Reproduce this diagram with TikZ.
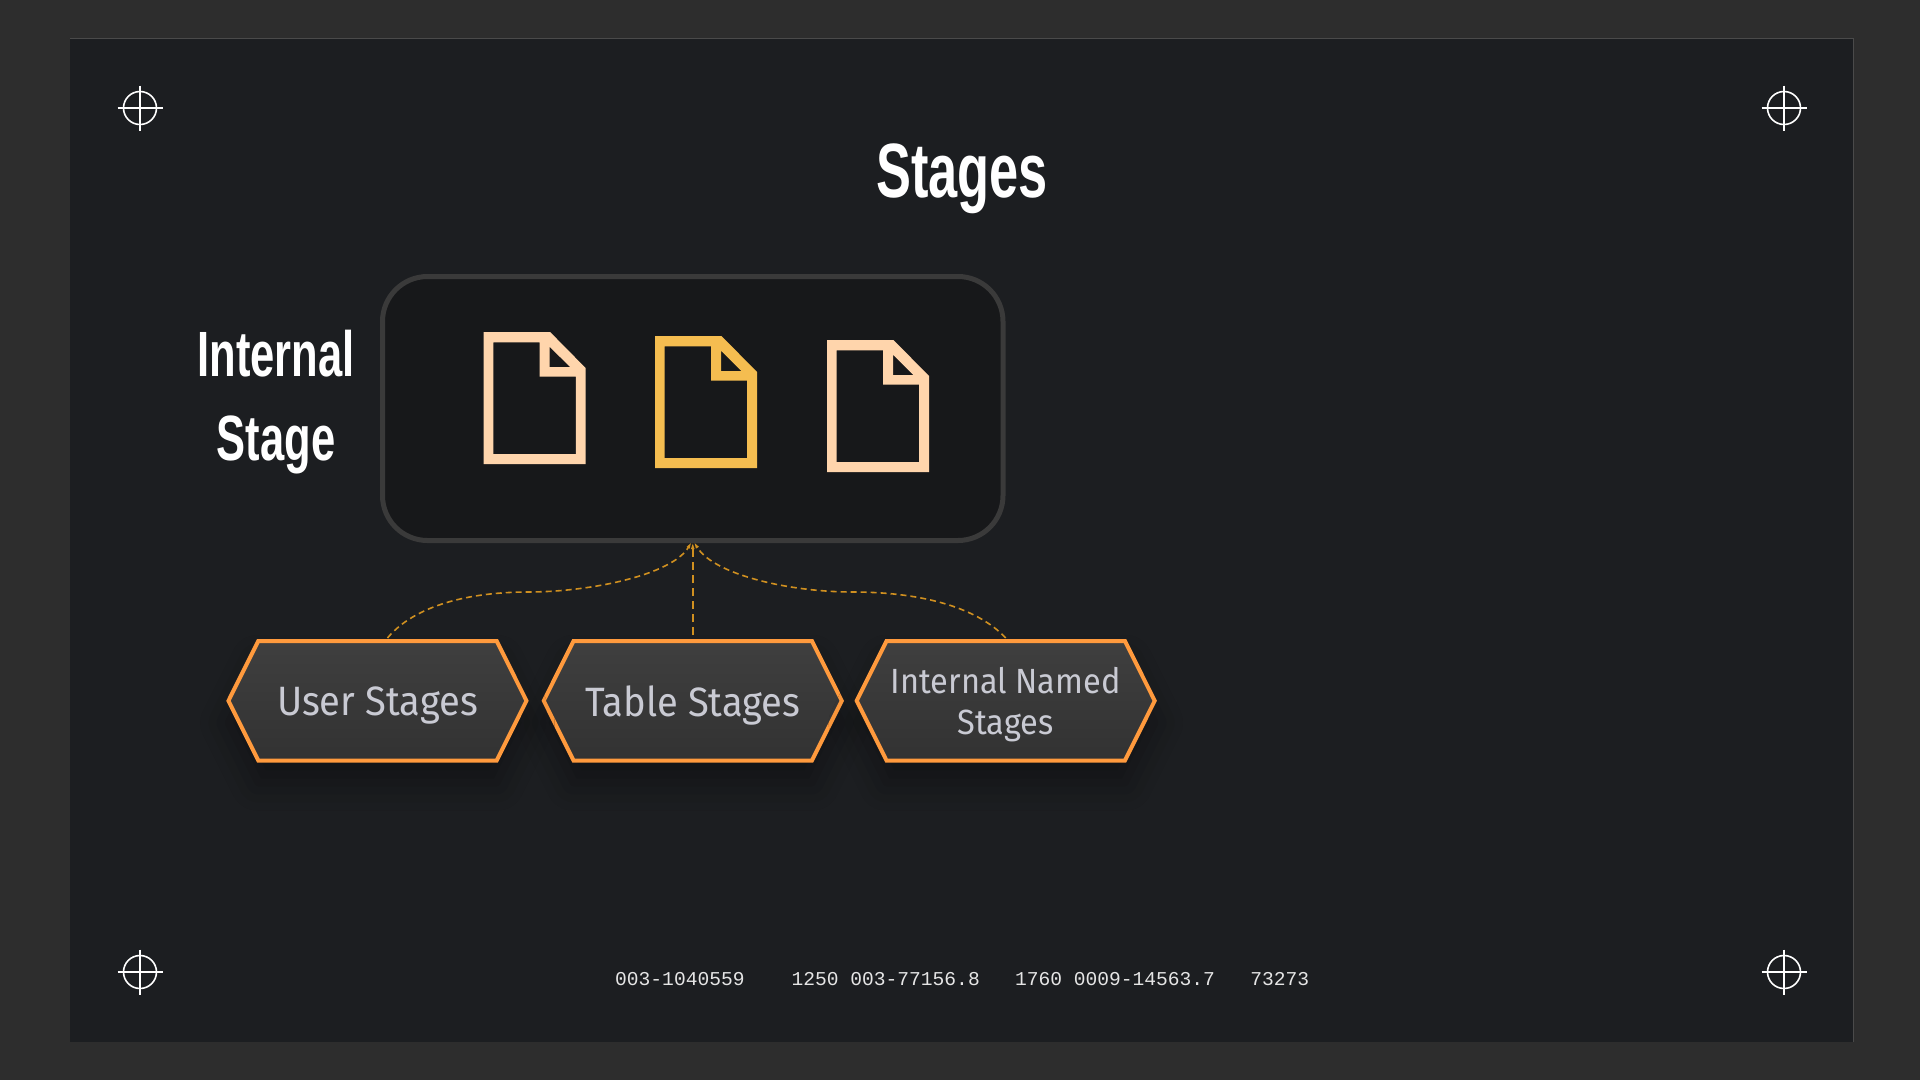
\documentclass[tikz,border=0pt]{standalone}
\usepackage{fontspec}
\newfontfamily\titlefont[FakeStretch=0.68]{Liberation Sans Bold}
\newfontfamily\hexfont[FakeStretch=0.93]{Fira Sans}
\newfontfamily\codefont{Liberation Mono}
\usetikzlibrary{calc,shapes.symbols,arrows.meta,positioning,shadows.blur}

\definecolor{pagegrey}{HTML}{2D2D2D}
\definecolor{slidegrey}{HTML}{1C1E21}
\definecolor{slideedge}{HTML}{4A4A4A}
\definecolor{boxfill}{HTML}{17181A}
\definecolor{boxedge}{HTML}{3A3A3A}
\definecolor{docpeach}{HTML}{FFD5AC}
\definecolor{docgold}{HTML}{F5BD50}
\definecolor{hexedge}{HTML}{FF9A3D}
\definecolor{hextop}{HTML}{3F3F3F}
\definecolor{hexbottom}{HTML}{323232}
\definecolor{hextext}{HTML}{C9CAD3}
\definecolor{linkgold}{HTML}{D09020}

\begin{document}
\begin{tikzpicture}[
    x=1pt,y=-1pt,
    stagebox/.style={rectangle,
        draw=boxedge,
        fill=boxfill,
        line width=5pt,
        rounded corners=45pt,
        minimum width=620.5pt,
        minimum height=264pt},
    stagehex/.style={signal,signal to=east and west,
        signal pointer angle=127,
        draw=hexedge,
        line width=4pt,
        top color=hextop,
        bottom color=hexbottom,
        text=hextext,
        font=\hexfont\fontsize{41}{41}\selectfont,
        align=center,
        inner sep=0pt,
        text depth=-2pt,
        minimum width=298pt,
        minimum height=119.5pt,
        blur shadow={shadow xshift=0pt,shadow yshift=-22pt,shadow blur radius=28pt,shadow opacity=35}},
    headline/.style={text=white,font=\titlefont\fontsize{#1}{84}\selectfont,align=center,inner sep=0pt},
    stagelink/.style={draw=linkgold,line width=1.6pt,dash pattern=on 6pt off 4pt,
        -{Latex[length=9pt,width=3.5pt]}},
    docicon/.pic={
        \fill[pic actions,even odd rule]
            (0,0) -- (66.5,0) -- (102,36) -- (102,132) -- (0,132) -- cycle
            (9.7,10.3) -- (56,10.3) -- (56,44.7) -- (92.2,44.7) -- (92.2,122) -- (9.7,122) -- cycle
            (66,14.7) -- (86.5,35) -- (66,35) -- cycle;
    },
    crossmark/.pic={
        \draw[white,line width=1.6pt] (0,0) circle (16.5);
        \draw[white,line width=1.6pt] (-22.5,0) -- (22.5,0) (0,-22.5) -- (0,22.5);
    },
    ]

    \useasboundingbox (0,0) rectangle (1920,1080);
    \fill[pagegrey] (0,0) rectangle (1920,1080);
    \fill[slidegrey] (70,38) rectangle (1853,1042);
    \draw[slideedge,line width=1pt] (70,38) -- (1853,38) -- (1853,1042);

    \foreach \markname/\markx/\marky in {marka/140/108,markb/1784/108,markc/140/972,markd/1784/972}
        \pic (\markname) at (\markx,\marky) {crossmark};

    \node [headline=77, anchor=base] (title) at (962,197) {Stages};
    \node [headline=64] (internal) at (276,402) {Internal\\Stage};

    \node [stagebox] (box) at (692.75,408.5) {};
    \pic [fill=docpeach] (doca) at (483.6,332) {docicon};
    \pic [fill=docgold] (docb) at (655,336) {docicon};
    \pic [fill=docpeach] (docc) at (827,340) {docicon};

    \node [stagehex, below = 96pt of box] (tablestages) {Table Stages};
    \node [stagehex, left = 12.8pt of tablestages] (userstages) {User Stages};
    \node [stagehex, right = 10.5pt of tablestages, font=\hexfont\fontsize{35}{41.5}\selectfont] (namedstages) {Internal Named\\Stages};

    \coordinate (apex) at ([yshift=3pt]box.south);
    \coordinate (userend) at ([xshift=10pt,yshift=1pt]userstages.north);
    \coordinate (tableend) at ([yshift=4pt]tablestages.north);
    \coordinate (namedend) at ([yshift=1pt]namedstages.north);

    \draw[stagelink] (userend) .. controls (415,605) and (470,592) .. (528,592)
        .. controls (590,592) and (672,575) .. (apex);
    \draw[stagelink,dash pattern=on 8pt off 5pt] (tableend) -- (apex);
    \draw[stagelink] (namedend) .. controls (975,605) and (915,592) .. (853,592)
        .. controls (790,592) and (714,575) .. (apex);

    \node [anchor=base west, inner sep=0pt, text=white!90!black,
        font=\codefont\fontsize{19.6}{22}\selectfont] (footer) at (615,985)
        {003-1040559\ \ \ \ 1250 003-77156.8\ \ \ 1760 0009-14563.7\ \ \ 73273};
\end{tikzpicture}
\end{document}
